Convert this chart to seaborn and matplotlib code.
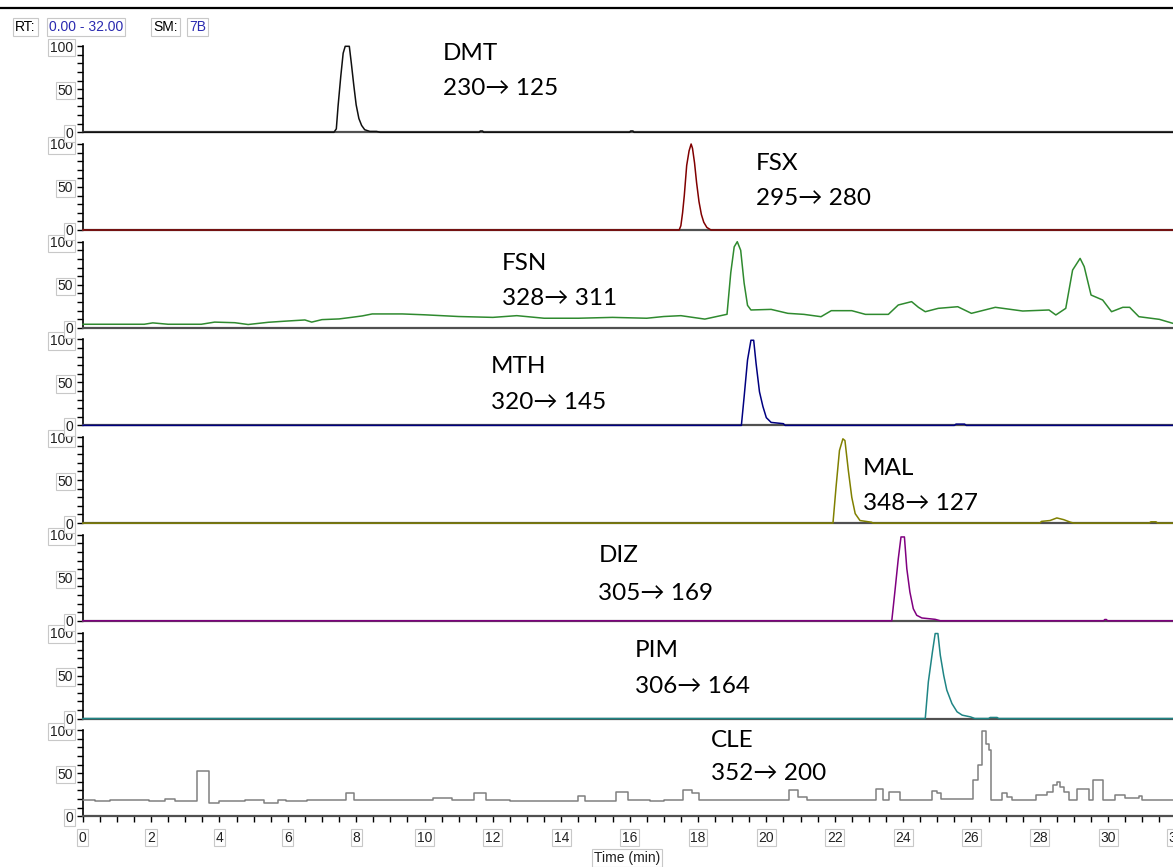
import pandas as pd
import matplotlib
matplotlib.use('Agg')
import matplotlib.pyplot as plt
from matplotlib.ticker import MultipleLocator, FixedLocator
import seaborn as sns

sns.set_style('ticks')
plt.rcParams['font.family'] = ['Liberation Sans', 'DejaVu Sans']

# 各通道：名称、离子对、颜色
names = ['DMT', 'FSX', 'FSN', 'MTH', 'MAL', 'DIZ', 'PIM', 'CLE']
transitions = ['230→ 125', '295→ 280', '328→ 311', '320→ 145',
               '348→ 127', '305→ 169', '306→ 164', '352→ 200']
colors = ['#101010', '#800000', '#2f8a2f', '#000080',
          '#808000', '#800080', '#1f8585', '#808080']

# 色谱数据 (min, 相对丰度%)
dmt_t = [0, 7.35, 7.42, 7.47, 7.55, 7.62, 7.68, 7.8, 7.86, 7.93, 8.0, 8.08, 8.16, 8.25, 8.4, 8.6, 8.7,
         11.6, 11.63, 11.7, 11.73, 16.0, 16.03, 16.1, 16.13, 32]
dmt_v = [0, 0, 4, 30, 65, 92, 100, 100, 80, 55, 32, 16, 8, 3, 1, 1, 0,
         0, 1.5, 1.5, 0, 0, 1.5, 1.5, 0, 0]

fsx_t = [0, 17.45, 17.5, 17.55, 17.6, 17.67, 17.74, 17.8, 17.84, 17.9, 17.96, 18.03, 18.1, 18.17, 18.26, 18.38, 32]
fsx_v = [0, 0, 5, 20, 40, 75, 92, 100, 95, 78, 55, 33, 18, 9, 3, 0, 0]

fsn_t = [0, 1.8, 2.05, 2.5, 3.47, 3.86, 4.45, 4.84, 5.43, 6.0, 6.5, 6.7, 7.0, 7.5, 7.88, 8.18, 8.47, 9.35,
         10.0, 11.0, 12.0, 12.7, 13.5, 14.5, 15.5, 16.5, 17.0, 17.5, 18.2, 18.85, 18.96, 19.06, 19.15,
         19.25, 19.35, 19.45, 19.55, 20.14, 20.63, 21.1, 21.6, 21.9, 22.5, 22.9, 23.57, 23.86, 24.25,
         24.45, 24.65, 25.03, 25.6, 26.0, 26.7, 27.5, 28.27, 28.47, 28.76, 28.96, 29.18, 29.3, 29.5,
         29.84, 30.1, 30.43, 30.63, 30.9, 31.5, 31.9, 32]
fsn_v = [4, 4, 5.6, 4, 4, 6.5, 5.8, 3.7, 6.3, 7.8, 9, 6.5, 9.4, 10.2, 12.1, 13.7, 16, 16,
         15, 13, 12, 14, 11, 11, 12, 11, 13, 14, 10, 15.6, 64, 94, 100,
         90, 52, 26, 20.6, 21.3, 16.7, 15.5, 12.8, 19.8, 19.8, 15.5, 15.5, 26.4, 30.3,
         23.7, 18.6, 22.5, 24.4, 16.7, 23.7, 19.4, 20.6, 14.8, 22.5, 67, 80.6, 71, 38,
         32.2, 18.6, 23.7, 23.7, 12.8, 9.7, 5, 5]

mth_t = [0, 19.27, 19.35, 19.45, 19.55, 19.63, 19.7, 19.8, 19.9, 20.0, 20.14, 20.5, 20.55,
         25.5, 25.55, 25.8, 25.85, 32]
mth_v = [0, 0, 33, 76, 99, 99, 72, 39, 22, 9, 3.5, 2, 0,
         0, 1.5, 1.5, 0, 0]

mal_t = [0, 21.95, 22.04, 22.14, 22.24, 22.3, 22.4, 22.5, 22.6, 22.74, 23.08, 23.12,
         28.0, 28.05, 28.3, 28.5, 28.7, 28.9, 29.0, 31.2, 31.25, 31.4, 31.45, 32]
mal_v = [0, 0, 42, 84.5, 98, 96, 61, 30, 11, 3, 1, 0,
         0, 2, 3, 6, 4, 1, 0, 0, 1.5, 1.5, 0, 0]

diz_t = [0, 23.67, 23.76, 23.86, 23.94, 24.04, 24.11, 24.2, 24.3, 24.4, 24.55, 24.94, 25.09,
         29.87, 29.9, 29.95, 29.98, 32]
diz_v = [0, 0, 33.5, 72, 97.5, 97.5, 60.6, 33.5, 14, 6.4, 3.3, 1.7, 0,
         0, 1.5, 1.5, 0, 0]

pim_t = [0, 24.65, 24.74, 24.86, 24.94, 25.02, 25.09, 25.19, 25.28, 25.43, 25.58, 25.73, 25.97, 26.1,
         26.5, 26.55, 26.75, 26.8, 32]
pim_v = [0, 0, 42.6, 77.5, 98.8, 98.8, 73.6, 50, 33, 17.4, 7.8, 3.9, 1.9, 0,
         0, 1.2, 1.2, 0, 0]

# CLE 为阶梯状（steps-post）
cle_t = [0, 0.35, 0.8, 1.55, 1.95, 2.4, 2.7, 3.35, 3.7, 4.0, 4.75, 5.3, 5.7, 5.95, 6.55, 7.69, 7.95,
         10.26, 10.8, 11.45, 11.8, 12.5, 14.5, 14.7, 15.6, 15.95, 16.6, 17.0, 17.55, 17.82, 18.03,
         20.67, 20.94, 21.2, 23.2, 23.4, 23.6, 23.9, 24.85, 25.0, 25.1, 26.05, 26.2, 26.3, 26.42,
         26.5, 26.56, 26.9, 27.05, 27.2, 27.9, 28.2, 28.4, 28.5, 28.6, 28.7, 28.85, 29.1, 29.45,
         29.55, 29.85, 30.2, 30.5, 30.9, 31.0, 32]
cle_v = [19.4, 17.9, 18.6, 19.4, 17.9, 20.5, 17.5, 52.3, 15.6, 17.9, 18.6, 15.6, 18.6, 17.5, 19.4, 27.1, 18.6,
         21.7, 19.4, 27.1, 18.6, 17.8, 23.3, 17.8, 28.3, 18.6, 17.5, 18.6, 31, 26.4, 18.6,
         30, 22.5, 18.6, 32.2, 18.6, 28.3, 18.6, 29.5, 26.4, 20.5, 41.9, 60, 99.2, 84.5,
         76.7, 18.6, 27.1, 22.5, 18.6, 24.4, 28.3, 36, 40, 34, 28.3, 18.6, 32.2, 18.6,
         41.9, 18.6, 24.4, 21.7, 23, 18.6, 18.6]

series_t = [dmt_t, fsx_t, fsn_t, mth_t, mal_t, diz_t, pim_t, cle_t]
series_v = [dmt_v, fsx_v, fsn_v, mth_v, mal_v, diz_v, pim_v, cle_v]

# 标注位置 (min, %)
label_x = [10.53, 19.7, 12.26, 11.94, 22.82, 15.09, 16.15, 18.38]
name_y = [92, 77, 74.5, 68.5, 63.6, 76.2, 79.4, 88.5]
trans_y = [51, 36.4, 33.8, 26.6, 22.9, 32, 37.6, 50.1]

x_ticks = list(range(0, 33, 2))
y_ticks = [0, 50, 100]

W, H = 1173, 867
fig = plt.figure(figsize=(W / 100, H / 100), dpi=100)

box = dict(facecolor='white', edgecolor='#c8c8c8', boxstyle='square,pad=0.12', lw=0.8)

for i in range(8):
    zero = 132.3 + 97.7 * i
    ax = fig.add_axes([82.7 / W, 1 - zero / H, 1093.8 / W, 86 / H], zorder=20 - i)
    ax.patch.set_alpha(0)
    df = pd.DataFrame({'t': series_t[i], 'v': series_v[i]})
    kw = dict(drawstyle='steps-post') if names[i] == 'CLE' else {}
    sns.lineplot(data=df, x='t', y='v', ax=ax, color=colors[i], lw=1.1,
                 estimator=None, sort=False, clip_on=False, zorder=5, **kw)
    ax.set_xlim(0, 32)
    ax.set_ylim(0, 100)
    ax.set_xlabel('')
    ax.set_ylabel('')
    for s in ['top', 'right']:
        ax.spines[s].set_visible(False)
    ax.spines['left'].set_color('black')
    ax.spines['left'].set_linewidth(1.2)
    ax.spines['bottom'].set_color('#505050')
    ax.spines['bottom'].set_linewidth(1.6)
    ax.yaxis.set_major_locator(FixedLocator(y_ticks))
    ax.yaxis.set_minor_locator(MultipleLocator(10))
    ax.tick_params(axis='y', which='both', length=4, width=1, color='black',
                   labelsize=10, pad=3, labelcolor='#202020')
    for lab in ax.get_yticklabels():
        lab.set_bbox(box)
    if i < 7:
        ax.set_xticks([])
    else:
        ax.xaxis.set_major_locator(FixedLocator(x_ticks))
        ax.xaxis.set_minor_locator(MultipleLocator(0.5))
        ax.tick_params(axis='x', which='both', length=4.5, width=1, color='black',
                       labelsize=10, pad=6, labelcolor='#202020')
        for lab in ax.get_xticklabels():
            lab.set_bbox(box)
    ax.text(label_x[i], name_y[i], names[i], fontsize=17.5, va='center', ha='left',
            family=['Lato', 'DejaVu Sans'], color='black')
    ax.text(label_x[i], trans_y[i], transitions[i], fontsize=17.5, va='center', ha='left',
            family=['Lato', 'DejaVu Sans'], color='black')

# 顶部线与表头
fig.add_artist(plt.Line2D([0, 1], [1 - 8 / H, 1 - 8 / H], color='black', lw=1.6))
hy = 1 - 27 / H
hdr = [(15, 'RT:', 'black'), (49, '0.00 - 32.00', '#2a2ab0'), (153, 'SM:', 'black'), (189, '7B', '#2a2ab0')]
for px, s, c in hdr:
    fig.text(px / W, hy, s, fontsize=10, color=c, va='center', ha='left',
             bbox=dict(facecolor='white', edgecolor='#c8c8c8', boxstyle='square,pad=0.15', lw=0.8))

fig.text(627 / W, 1 - 858 / H, 'Time (min)', fontsize=10, color='#202020', ha='center', va='center',
         bbox=dict(facecolor='white', edgecolor='#c8c8c8', boxstyle='square,pad=0.15', lw=0.8))

fig.savefig('out.png', dpi=100)
